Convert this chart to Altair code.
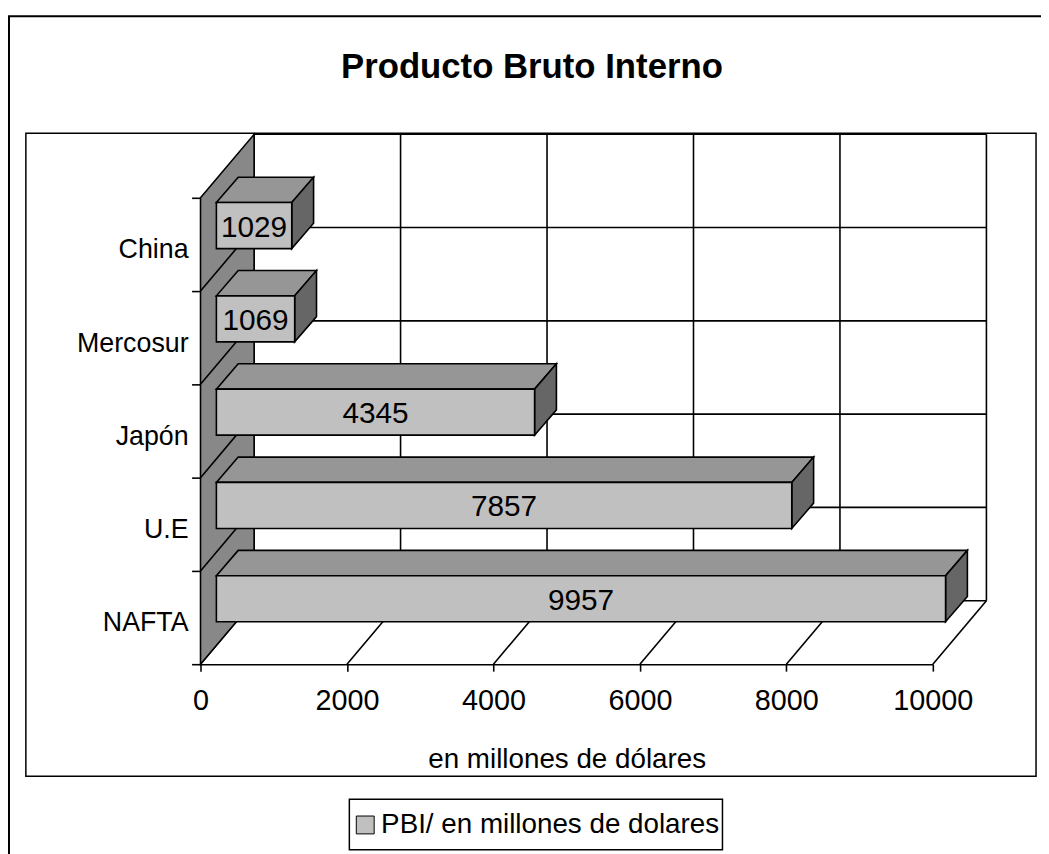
import altair as alt
import pandas as pd

# ---------------- data ----------------
regions = ["China", "Mercosur", "Japón", "U.E", "NAFTA"]
values = [1029, 1069, 4345, 7857, 9957]
x_ticks = [0, 2000, 4000, 6000, 8000, 10000]
series_name = "PBI/ en millones de dolares"
chart_title = "Producto Bruto Interno"
x_title = "en millones de dólares"

# ---------------- geometry / style ----------------
FONT = "Liberation Sans"
W, H = 738, 470
XMAX = 10000
N = len(regions)
ux = XMAX / W          # data units per pixel (x)
uy = N / H             # data units per pixel (y)
WALL_DX, WALL_DY = 54 * ux, 64 * uy
BAR_X0, BAR_Y0 = 16 * ux, 19 * uy
BAR_DX, BAR_DY = 22 * ux, 25.5 * uy
BAR_HALF = 23.2 * uy
LW = 1.6

xs = alt.Scale(domain=[0, XMAX], nice=False, zero=False)
ys = alt.Scale(domain=[0, N], nice=False, zero=False, reverse=True)

XA = alt.Axis(values=x_ticks, grid=False, domain=True, domainColor="black", domainWidth=LW,
              ticks=True, tickColor="black", tickWidth=LW, tickSize=7,
              labelFont=FONT, labelFontSize=29, labelColor="black", labelBaseline="alphabetic",
              labelPadding=38.7, labelFlush=False, labelOverlap=False, format="d",
              title=x_title, titleFont=FONT, titleFontSize=28, titleFontWeight="normal",
              titleColor="black", titleBaseline="alphabetic", titleY=104, titleX=W / 2)
YA = alt.Axis(values=list(range(N + 1)), grid=False, domain=False, ticks=True,
              tickColor="black", tickWidth=LW, tickSize=9, labels=False, title="")


def X(f):
    return alt.X(f, scale=xs, axis=XA)


def Y(f):
    return alt.Y(f, scale=ys, axis=YA)


one = pd.DataFrame({"k": [0]})

# ---------------- frames (decoration) ----------------
outer = alt.Chart(one).mark_rect(fillOpacity=0, stroke="black", strokeWidth=2).encode(
    x=alt.value(-193), x2=alt.value(950), y=alt.value(-183), y2=alt.value(800))
plotbox = alt.Chart(one).mark_rect(fillOpacity=0, stroke="black", strokeWidth=1.5).encode(
    x=alt.value(-176), x2=alt.value(842), y=alt.value(-65), y2=alt.value(583))
legbox = alt.Chart(one).mark_rect(fill="white", stroke="black", strokeWidth=1.5).encode(
    x=alt.value(150), x2=alt.value(526), y=alt.value(606), y2=alt.value(657))
title = alt.Chart(one).mark_text(text=chart_title, font=FONT, fontSize=35, fontWeight="bold",
                                 align="center", baseline="alphabetic", color="black").encode(
    x=alt.value(334), y=alt.value(-120.3))

# ---------------- walls & floor ----------------
back_v = pd.DataFrame({"x": [t + WALL_DX for t in x_ticks],
                       "y": [-WALL_DY] * len(x_ticks), "y2": [N - WALL_DY] * len(x_ticks)})
back_h = pd.DataFrame({"y": [i - WALL_DY for i in range(N + 1)],
                       "x": [WALL_DX] * (N + 1), "x2": [XMAX + WALL_DX] * (N + 1)})
floor = pd.DataFrame({"x": x_ticks, "y": [N] * len(x_ticks),
                      "x2": [t + WALL_DX for t in x_ticks], "y2": [N - WALL_DY] * len(x_ticks)})
side = pd.DataFrame({"x": [0, WALL_DX], "y": [0, -WALL_DY], "y2": [N, N - WALL_DY]})
side_d = pd.DataFrame({"x": [0] * (N - 1), "y": list(range(1, N)),
                       "x2": [WALL_DX] * (N - 1), "y2": [i - WALL_DY for i in range(1, N)]})

l_back_v = alt.Chart(back_v).mark_rule(color="black", strokeWidth=LW).encode(
    x=X("x:Q"), y=Y("y:Q"), y2="y2:Q")
l_back_h = alt.Chart(back_h).mark_rule(color="black", strokeWidth=LW).encode(
    x=X("x:Q"), x2="x2:Q", y=Y("y:Q"))
l_floor = alt.Chart(floor).mark_rule(color="black", strokeWidth=LW).encode(
    x=X("x:Q"), x2="x2:Q", y=Y("y:Q"), y2="y2:Q")
l_side = alt.Chart(side).mark_area(orient="vertical", fill="#888888", stroke="black",
                                   strokeWidth=LW, opacity=1).encode(
    x=X("x:Q"), y=Y("y:Q"), y2="y2:Q")
l_side_d = alt.Chart(side_d).mark_rule(color="black", strokeWidth=LW).encode(
    x=X("x:Q"), x2="x2:Q", y=Y("y:Q"), y2="y2:Q")

# ---------------- bars ----------------
top_rows, right_rows, front_rows = [], [], []
for i, (r, v) in enumerate(zip(regions, values)):
    yc = i + 0.5 - BAR_Y0
    yt, yb = yc - BAR_HALF, yc + BAR_HALF
    x0, x1 = BAR_X0, BAR_X0 + v
    top_rows += [{"region": r, "y": yt, "x": x0, "x2": x1},
                 {"region": r, "y": yt - BAR_DY, "x": x0 + BAR_DX, "x2": x1 + BAR_DX}]
    right_rows += [{"region": r, "x": x1, "y": yt, "y2": yb},
                   {"region": r, "x": x1 + BAR_DX, "y": yt - BAR_DY, "y2": yb - BAR_DY}]
    front_rows.append({"region": r, "serie": series_name, "x": x0, "x2": x1, "y": yt, "y2": yb,
                       "xc": (x0 + x1) / 2, "yc": yc, "label": str(v)})

top_df = pd.DataFrame(top_rows)
right_df = pd.DataFrame(right_rows)
front_df = pd.DataFrame(front_rows)
lab_df = pd.DataFrame({"region": regions, "x": [0] * N, "y": [i + 0.5 for i in range(N)]})

l_top = alt.Chart(top_df).mark_area(orient="horizontal", fill="#969696", stroke="black",
                                    strokeWidth=LW, opacity=1).encode(
    y=Y("y:Q"), x=X("x:Q"), x2="x2:Q", detail="region:N")
l_right = alt.Chart(right_df).mark_area(orient="vertical", fill="#666666", stroke="black",
                                        strokeWidth=LW, opacity=1).encode(
    x=X("x:Q"), y=Y("y:Q"), y2="y2:Q", detail="region:N")
l_front = alt.Chart(front_df).mark_rect(stroke="black", strokeWidth=LW, opacity=1).encode(
    x=X("x:Q"), x2="x2:Q", y=Y("y:Q"), y2="y2:Q",
    color=alt.Color("serie:N", scale=alt.Scale(domain=[series_name], range=["#c0c0c0"]),
                    legend=alt.Legend(title=None, orient="none", legendX=152, legendY=618,
                                      padding=0, symbolType="square", symbolSize=324,
                                      symbolStrokeColor="black", symbolStrokeWidth=1,
                                      symbolOpacity=1,
                                      labelFont=FONT, labelFontSize=28, labelColor="black",
                                      labelOffset=2, labelLimit=600)))
l_vals = alt.Chart(front_df).mark_text(font=FONT, fontSize=30, baseline="alphabetic", dy=11,
                                       align="center", color="black").encode(
    x=X("xc:Q"), y=Y("yc:Q"), text="label:N")
l_cats = alt.Chart(lab_df).mark_text(font=FONT, fontSize=27, baseline="alphabetic", align="right",
                                     dx=-12, dy=14, color="black").encode(
    x=X("x:Q"), y=Y("y:Q"), text="region:N")

chart = alt.layer(
    outer, plotbox, title,
    l_back_h, l_back_v, l_floor, l_side, l_side_d,
    l_top, l_right, l_front, l_vals, l_cats, legbox
).properties(
    width=W, height=H,
    autosize=alt.AutoSizeParams(type="none"),
    padding={"left": 194, "top": 188, "right": 109, "bottom": 188},
    background="white",
).configure(font=FONT).configure_view(stroke=None, strokeWidth=0)

chart.save("out.html", embed_options={"renderer": "svg", "actions": False})
